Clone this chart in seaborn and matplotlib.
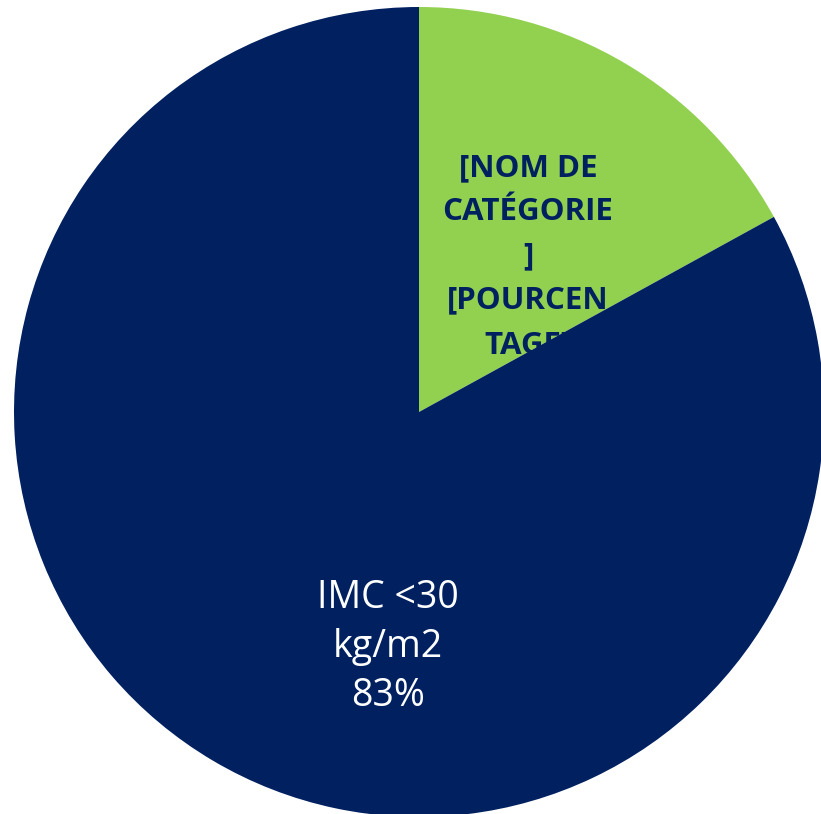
import matplotlib
matplotlib.use("Agg")
import matplotlib.pyplot as plt
import seaborn as sns

categories = ["[NOM DE\nCATÉGORIE\n]\n[POURCEN\nTAGE]", "IMC <30\nkg/m2\n83%"]
values = [17, 83]
colors = ["#92D050", "#002060"]

sns.set_style("white")
plt.rcParams["font.family"] = ["Open Sans", "DejaVu Sans"]

W, H = 821, 814
fig = plt.figure(figsize=(W / 100, H / 100), dpi=100)
cx, cy, r = 419, 412, 405
ax = fig.add_axes([(cx - r) / W, (H - cy - r) / H, 2 * r / W, 2 * r / H])

wedges, _ = ax.pie(values, colors=colors, startangle=90, counterclock=False,
                   radius=1, center=(0, 0), frame=False)
ax.set_xlim(-1, 1)
ax.set_ylim(-1, 1)
ax.set_aspect("auto")
ax.axis("off")
for w in wedges:
    w.set_linewidth(0)
wedges[0].set_zorder(1)
wedges[1].set_zorder(3)

ax.text(0.269, 0.384, categories[0], ha="center", va="center", fontsize=22.5,
        fontweight="bold", color="#002060", linespacing=1.62, zorder=2)
ax.text(-0.077, -0.58, categories[1], ha="center", va="center", fontsize=27,
        color="white", linespacing=1.37, zorder=4)

fig.savefig("out.png", dpi=100)
